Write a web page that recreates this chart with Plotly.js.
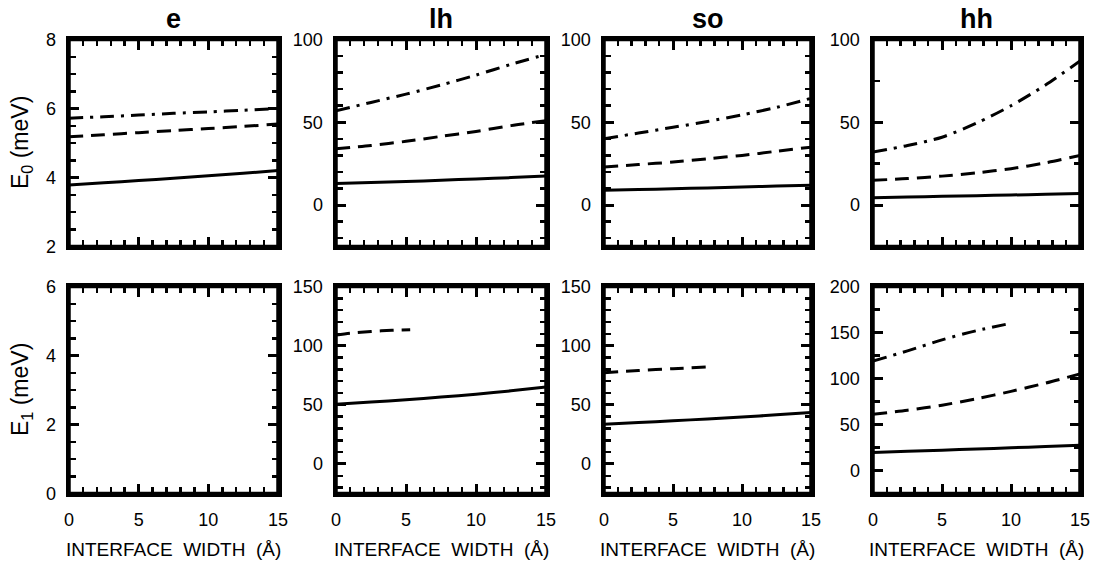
<!DOCTYPE html>
<html>
<head>
<meta charset="utf-8">
<script src="https://cdn.plot.ly/plotly-3.0.1.min.js"></script>
<style>html,body{margin:0;padding:0;background:#fff;}#chart{width:1095px;height:568px;}</style>
</head>
<body>
<div id="chart"></div>
<script>
// ---------- data ----------
const panelTitles = ['e', 'lh', 'so', 'hh'];
const xTitle = 'INTERFACE\u00A0\u00A0WIDTH\u00A0\u00A0(\u00C5)';
const yTitles = ['E<sub>0</sub> (meV)', 'E<sub>1</sub> (meV)'];

const xFull = [0, 2.5, 5, 7.5, 10, 12.5, 15];

// top row: E0
const eE0Solid   = [3.78, 3.85, 3.91, 3.98, 4.05, 4.12, 4.2];
const eE0Dashed  = [5.18, 5.24, 5.30, 5.36, 5.42, 5.48, 5.55];
const eE0DashDot = [5.72, 5.76, 5.81, 5.86, 5.90, 5.95, 6.0];

const lhE0Solid   = [13, 13.6, 14.2, 15, 15.8, 16.6, 17.5];
const lhE0Dashed  = [34, 36, 38.5, 41.5, 44.5, 48, 51];
const lhE0DashDot = [57, 62, 67, 72.5, 78.5, 85, 91];

const soE0Solid   = [9, 9.4, 9.9, 10.4, 10.9, 11.5, 12];
const soE0Dashed  = [23, 24.5, 26, 28, 30, 32.5, 35];
const soE0DashDot = [40, 43.5, 47, 50.5, 54.5, 59, 64.5];

const hhE0Solid   = [4.5, 4.9, 5.3, 5.7, 6.1, 6.5, 7];
const hhE0Dashed  = [15, 16, 17.5, 19.5, 22, 25.5, 30];
const hhE0DashDot = [32, 36, 41, 49.5, 60, 72.5, 87];

// bottom row: E1
const lhE1Solid  = [50.5, 52.3, 54.3, 56.5, 59, 61.8, 65];
const lhE1DashX  = [0, 1, 2.5, 4, 5.3];
const lhE1Dashed = [109, 110.5, 112, 113, 113.5];

const soE1Solid  = [33.5, 35, 36.5, 38, 39.7, 41.5, 43.5];
const soE1DashX  = [0, 2.5, 5, 7.5];
const soE1Dashed = [77, 79, 80.5, 82];

const hhE1Solid    = [19.5, 20.8, 22.1, 23.4, 24.7, 26.1, 27.5];
const hhE1Dashed   = [61, 65.5, 71, 78, 86, 95, 105];
const hhE1DashDotX = [0, 2.5, 5, 7.5, 10];
const hhE1DashDot  = [119, 130, 142, 152, 160];

// axis ranges / ticks per panel (top e, lh, so, hh, bottom e, lh, so, hh)
const yRanges = [[2, 8], [-25, 100], [-25, 100], [-25, 100], [0, 6], [-25, 150], [-25, 150], [-25, 200]];
const yDticks = [2, 50, 50, 50, 2, 50, 50, 50];
const yMinor  = [0.5, 10, 10, 25, 0.5, 10, 10, 25];

// ---------- styling ----------
const FONT = 'Liberation Sans, Arial, Helvetica, sans-serif';
const W = 1095, H = 568;
const colPx = [[69, 278], [336, 546], [604, 811], [873, 1080]];
const rowPx = [[39.5, 246.5], [286.5, 493.5]];

const solid = {color: 'black', width: 3, dash: 'solid', shape: 'spline', smoothing: 0.8};
const dashed = {color: 'black', width: 3, dash: '14px,8px', shape: 'spline', smoothing: 0.8};
const dashdot = {color: 'black', width: 3, dash: '14px,7px,3px,7px', shape: 'spline', smoothing: 0.8};

function tr(n, x, y, line) {
  const s = n === 1 ? '' : n;
  return {x: x, y: y, type: 'scatter', mode: 'lines', line: line,
          xaxis: 'x' + s, yaxis: 'y' + s, showlegend: false, hoverinfo: 'skip'};
}

const traces = [
  tr(1, xFull, eE0Solid, solid), tr(1, xFull, eE0Dashed, dashed), tr(1, xFull, eE0DashDot, dashdot),
  tr(2, xFull, lhE0Solid, solid), tr(2, xFull, lhE0Dashed, dashed), tr(2, xFull, lhE0DashDot, dashdot),
  tr(3, xFull, soE0Solid, solid), tr(3, xFull, soE0Dashed, dashed), tr(3, xFull, soE0DashDot, dashdot),
  tr(4, xFull, hhE0Solid, solid), tr(4, xFull, hhE0Dashed, dashed), tr(4, xFull, hhE0DashDot, dashdot),
  tr(5, [null], [null], solid),
  tr(6, xFull, lhE1Solid, solid), tr(6, lhE1DashX, lhE1Dashed, dashed),
  tr(7, xFull, soE1Solid, solid), tr(7, soE1DashX, soE1Dashed, dashed),
  tr(8, xFull, hhE1Solid, solid), tr(8, xFull, hhE1Dashed, dashed), tr(8, hhE1DashDotX, hhE1DashDot, dashdot)
];

const layout = {
  width: W, height: H,
  margin: {l: 0, r: 0, t: 0, b: 0},
  paper_bgcolor: 'white', plot_bgcolor: 'white',
  showlegend: false,
  font: {family: FONT, color: 'black'},
  annotations: [],
  shapes: []
};

const common = {
  showline: true, linewidth: 3.5, linecolor: 'black', mirror: 'allticks',
  ticks: 'inside', ticklen: 10, tickwidth: 3, tickcolor: 'black',
  showgrid: false, zeroline: false, fixedrange: true,
  tickfont: {family: FONT, size: 18, color: 'black'}
};

for (let i = 0; i < 8; i++) {
  const n = i + 1, s = n === 1 ? '' : n;
  const col = i % 4, row = Math.floor(i / 4);
  const xd = [colPx[col][0] / W, colPx[col][1] / W];
  const yd = [1 - rowPx[row][1] / H, 1 - rowPx[row][0] / H];
  layout['xaxis' + s] = Object.assign({}, common, {
    domain: xd, anchor: 'y' + s, range: [0, 15], tick0: 0, dtick: 5,
    showticklabels: row === 1, ticklabelstandoff: 7,
    minor: {ticks: 'inside', ticklen: 6.5, tickwidth: 2.5, tickcolor: 'black', dtick: 1, tick0: 0, showgrid: false}
  });
  layout['yaxis' + s] = Object.assign({}, common, {
    domain: yd, anchor: 'x' + s, range: yRanges[i], tick0: 0, dtick: yDticks[i],
    ticklabelstandoff: 6,
    minor: {ticks: 'inside', ticklen: 6.5, tickwidth: 2.5, tickcolor: 'black', dtick: yMinor[i], tick0: 0, showgrid: false}
  });
  // bold frame drawn over each panel
  layout.shapes.push({
    type: 'rect', xref: 'x' + s + ' domain', yref: 'y' + s + ' domain',
    x0: 0, x1: 1, y0: 0, y1: 1, layer: 'above',
    line: {color: 'black', width: 3.5}, fillcolor: 'rgba(0,0,0,0)'
  });
}

// panel titles and x titles
for (let c = 0; c < 4; c++) {
  layout.annotations.push({
    text: '<b>' + panelTitles[c] + '</b>', xref: 'paper', yref: 'paper',
    x: (colPx[c][0] + colPx[c][1]) / 2 / W, y: 1 - 19 / H,
    xanchor: 'center', yanchor: 'middle', showarrow: false,
    font: {family: FONT, size: 27, color: 'black'}
  });
  layout.annotations.push({
    text: xTitle, xref: 'paper', yref: 'paper',
    x: (colPx[c][0] + colPx[c][1]) / 2 / W, y: 1 - 549 / H,
    xanchor: 'center', yanchor: 'middle', showarrow: false,
    font: {family: FONT, size: 19, color: 'black'}
  });
}
for (let r = 0; r < 2; r++) {
  layout.annotations.push({
    text: yTitles[r], xref: 'paper', yref: 'paper', textangle: -90,
    x: 21 / W, y: 1 - (rowPx[r][0] + rowPx[r][1]) / 2 / H,
    xanchor: 'center', yanchor: 'middle', showarrow: false,
    font: {family: FONT, size: 23, color: 'black'}
  });
}

Plotly.newPlot('chart', traces, layout, {staticPlot: true, displayModeBar: false});
</script>
</body>
</html>
